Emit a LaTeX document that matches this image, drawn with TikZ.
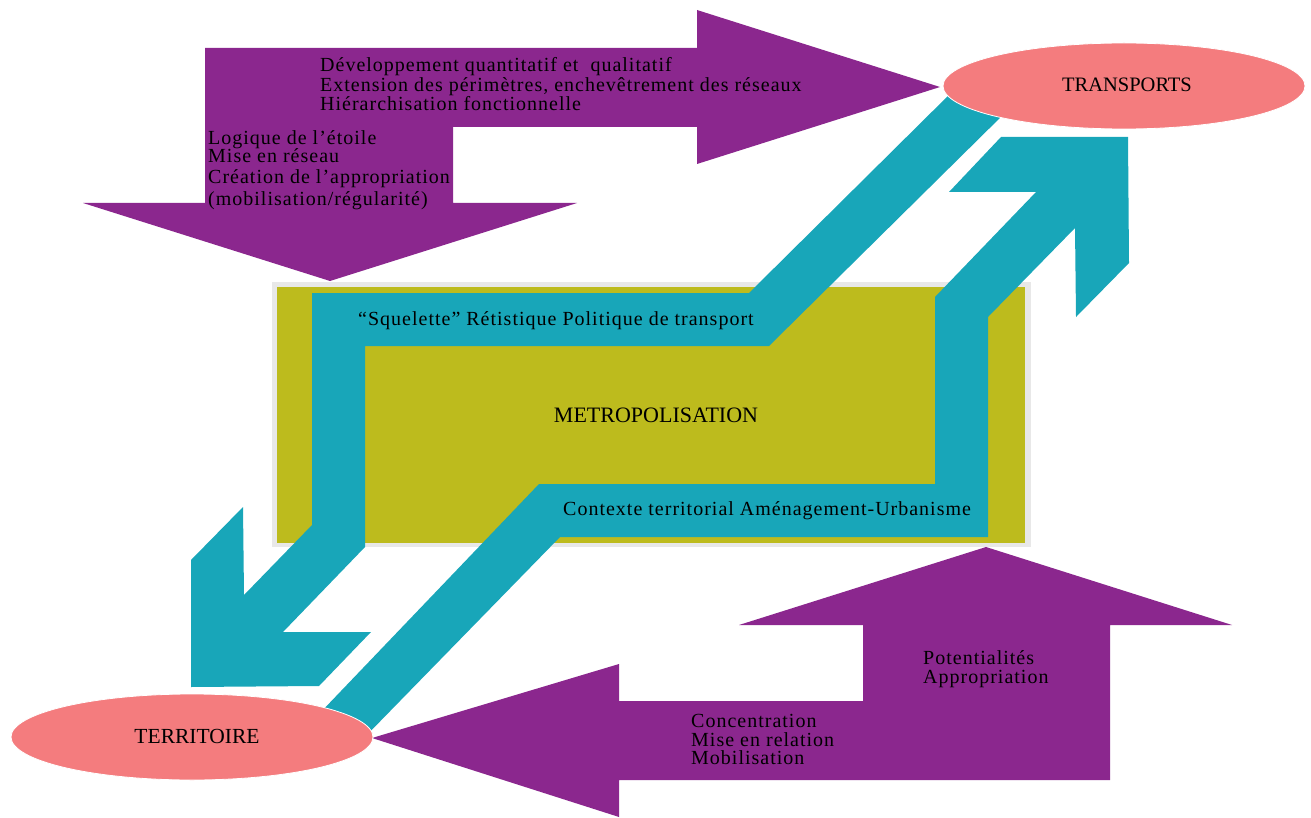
\documentclass[tikz,border=0pt]{standalone}
\usepackage{fontspec}
\setmainfont{Liberation Serif}
\newfontfamily\spacedserif[LetterSpace=5]{Liberation Serif}
\usetikzlibrary{shapes.geometric}
\definecolor{purp}{RGB}{139,39,142}
\definecolor{cyanb}{RGB}{24,166,185}
\definecolor{olive}{RGB}{189,187,29}
\definecolor{pinkel}{RGB}{244,124,126}
\definecolor{grayb}{RGB}{232,232,232}
\tikzset{
  purparrow/.style={fill=purp, draw=none},
  cyanarrow/.style={fill=cyanb, draw=none},
  pole/.style={ellipse, fill=pinkel, draw=white, line width=0.8pt, inner sep=0pt,
    minimum width=362pt, minimum height=86pt},
  txt/.style={inner sep=0pt, anchor=base west, font=\spacedserif\fontsize{20}{19}\selectfont},
}
\begin{document}
\begin{tikzpicture}[x=1pt,y=-1pt]
\useasboundingbox (0,0) rectangle (1311,818);
% central box
\fill[grayb] (272,282) rectangle (1031,547);
\node[fill=olive, inner sep=0pt, minimum width=748pt, minimum height=256pt, anchor=north west] (box) at (277,287) {};
% cyan arrow A (transports -> territoire)
\fill[cyanarrow] (960,84) -- (749,293) -- (312,293) -- (312,525) -- (244,595) -- (243,507)
  -- (191,560) -- (191,687) -- (319,686) -- (371,632) -- (283,632) -- (365,547)
  -- (365,346) -- (769,346) -- (1010,108) -- cycle;
% cyan arrow B (territoire -> transports)
\fill[cyanarrow] (319,714) -- (539,484) -- (935,484) -- (935,297) -- (1036,192) -- (949,192)
  -- (1001,137) -- (1128,137) -- (1129,263) -- (1076,317) -- (1075,228) -- (988,317)
  -- (988,537) -- (560,537) -- (360,742) -- cycle;
% purple top bent arrow
\fill[purparrow] (205,48) -- (697,48) -- (697,10) -- (940,87) -- (697,164) -- (697,127)
  -- (453,127) -- (453,203) -- (577,203) -- (330,281) -- (83,203) -- (205,203) -- cycle;
% purple bottom bent arrow
\fill[purparrow] (372,738) -- (619,664) -- (619,701) -- (863,701) -- (863,625) -- (739,625)
  -- (986,547) -- (1232,625) -- (1110,625) -- (1110,780) -- (619,780) -- (619,817) -- cycle;
% poles
\node[pole] (transports) at (1124,86) {};
\node[inner sep=0pt, font=\fontsize{20.5}{22}\selectfont] (transportsl) at (1127,85) {TRANSPORTS};
\node[pole] (territoire) at (192,737) {};
\node[inner sep=0pt, font=\fontsize{21.5}{22}\selectfont] (territoirel) at (197,736) {TERRITOIRE};
% texts
\node[font=\fontsize{22}{22}\selectfont, inner sep=0pt] (metro) at (656,415) {METROPOLISATION};
\node[txt] (sq) at (358,325) {“Squelette” Rétistique Politique de transport};
\node[txt] (ctx) at (563,515) {Contexte territorial Aménagement-Urbanisme};
\node[txt] (t1) at (320,72) {Développement quantitatif et\ \ qualitatif};
\node[txt] (t2) at (320,92) {Extension des périmètres, enchevêtrement des réseaux};
\node[txt] (t3) at (320,111) {Hiérarchisation fonctionnelle};
\node[txt] (l1) at (208,145) {Logique de l’étoile};
\node[txt] (l2) at (208,163) {Mise en réseau};
\node[txt] (l3) at (208,184) {Création de l’appropriation};
\node[txt] (l4) at (208,206) {(mobilisation/régularité)};
\node[txt] (p1) at (923,664) {Potentialités};
\node[txt] (p2) at (923,683) {Appropriation};
\node[txt] (c1) at (691,727) {Concentration};
\node[txt] (c2) at (691,746) {Mise en relation};
\node[txt] (c3) at (691,764) {Mobilisation};
\end{tikzpicture}
\end{document}
